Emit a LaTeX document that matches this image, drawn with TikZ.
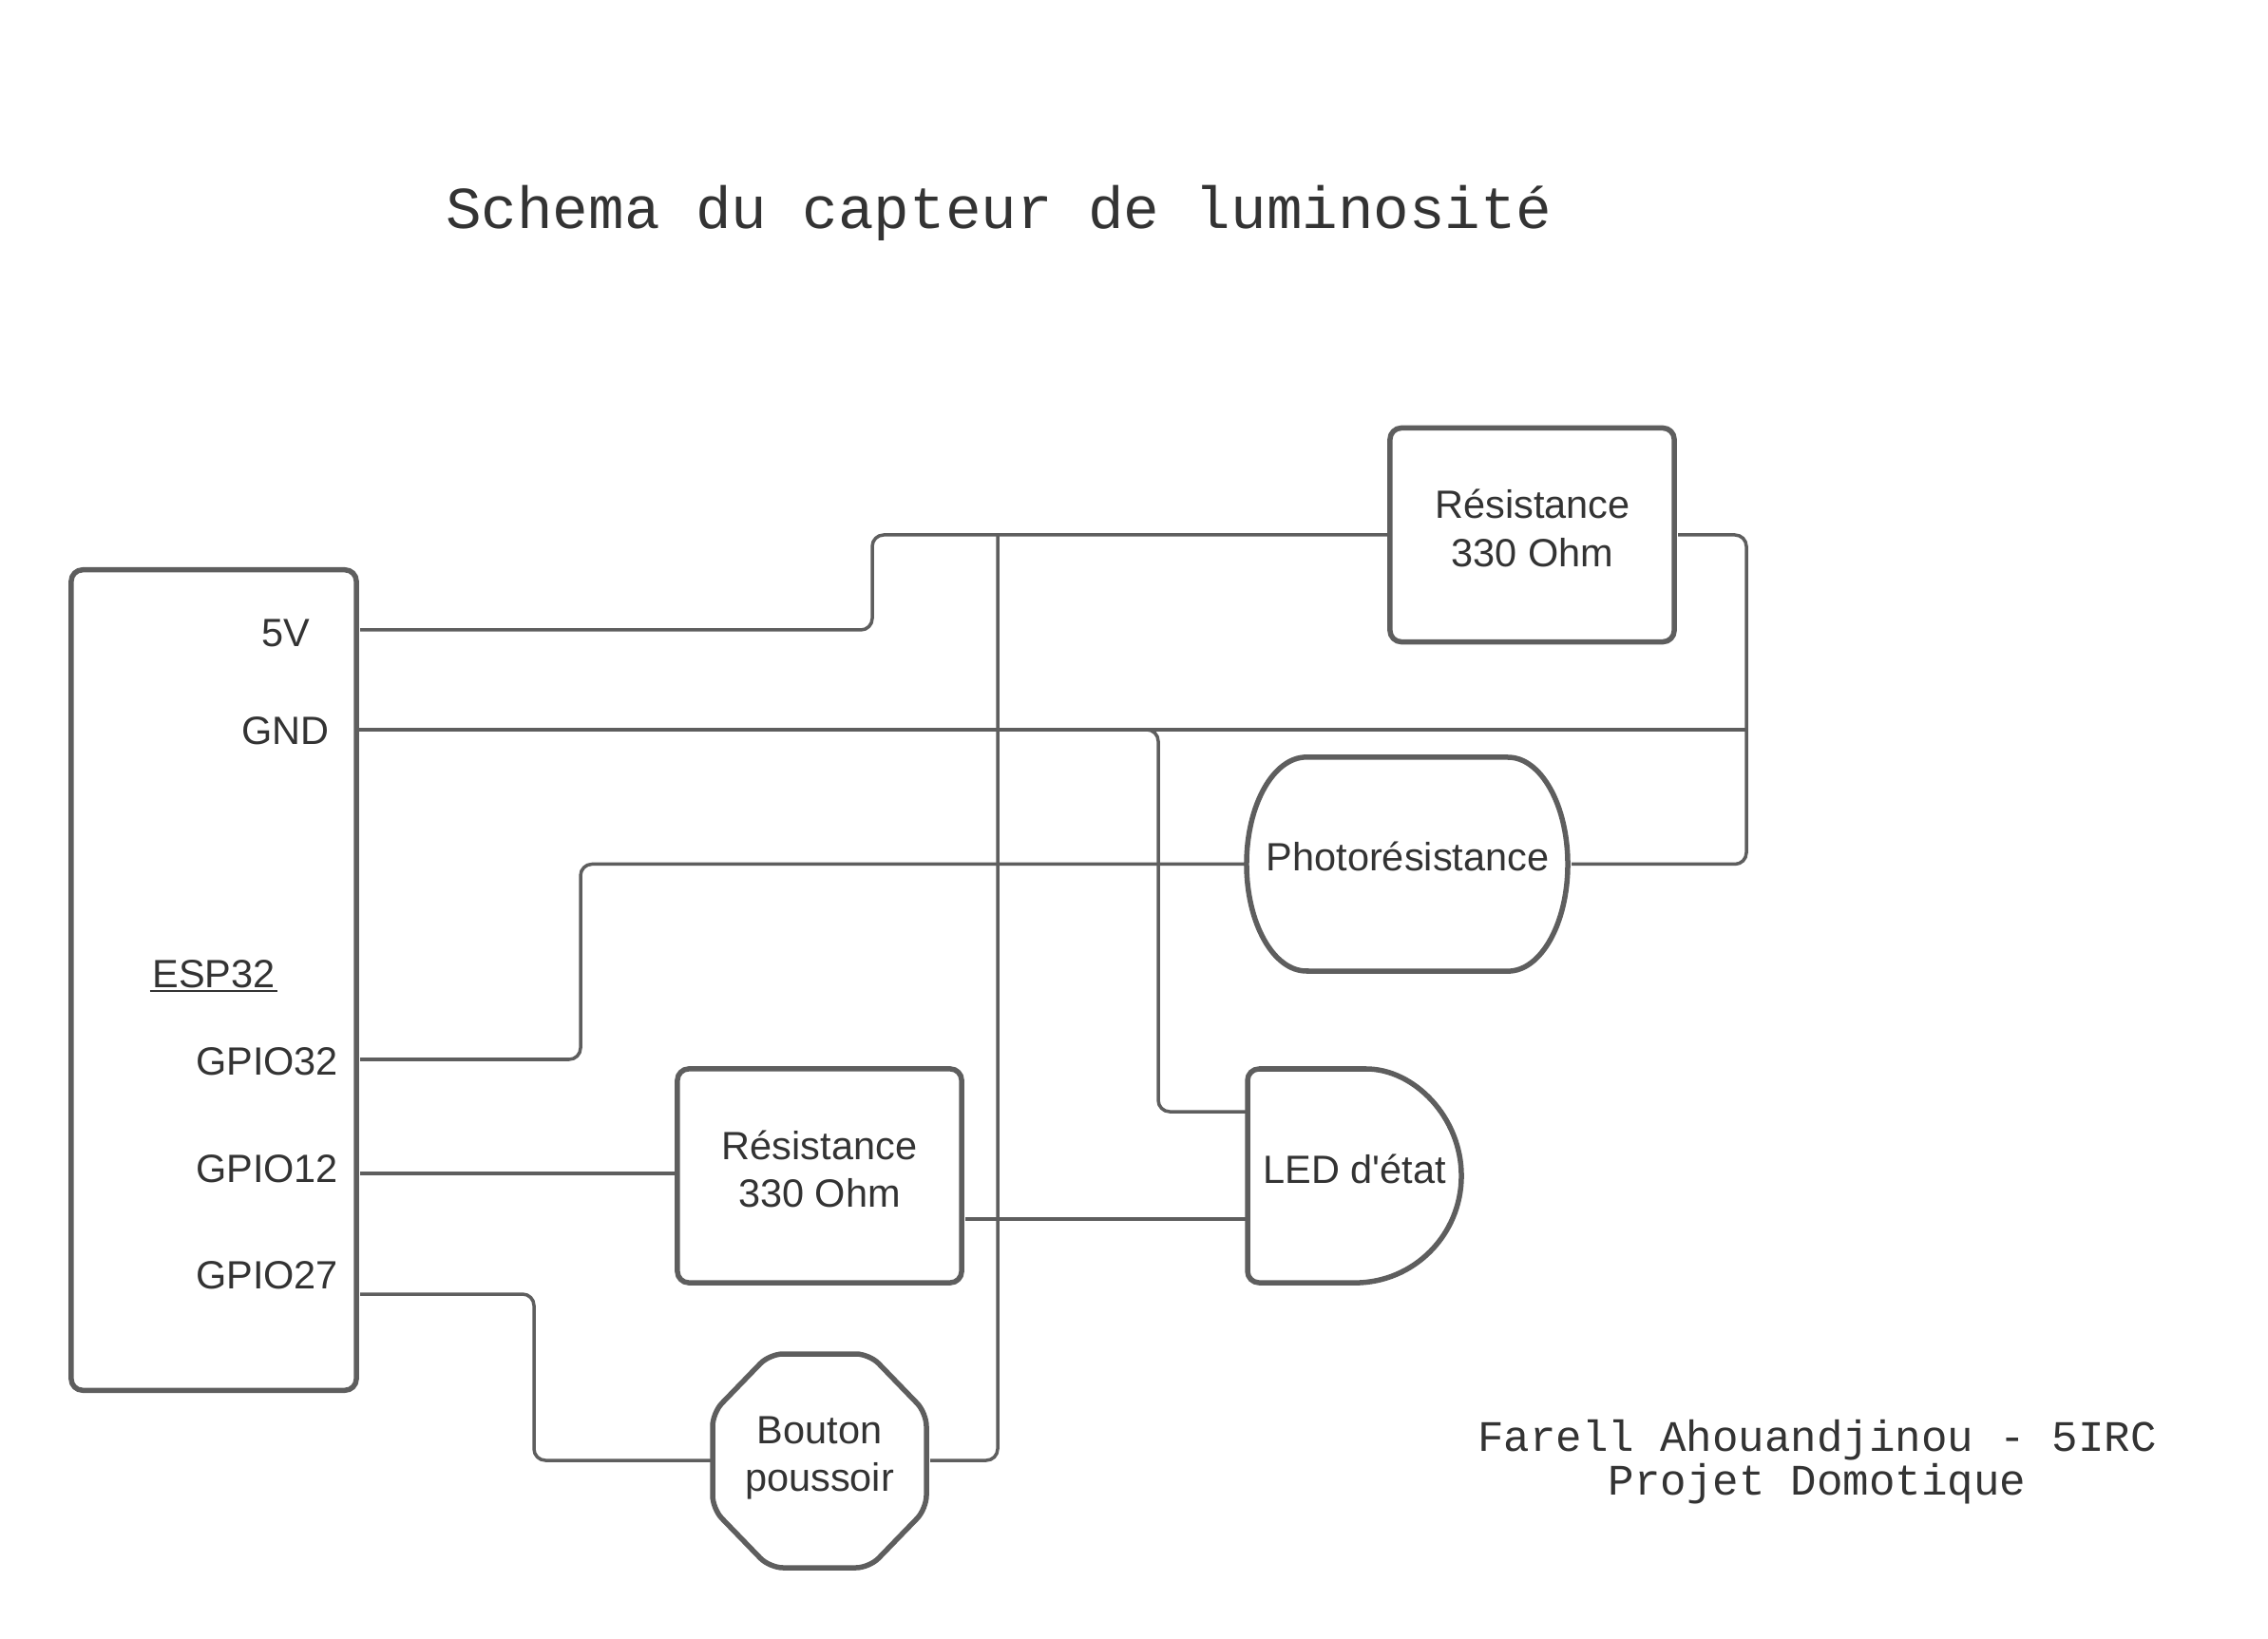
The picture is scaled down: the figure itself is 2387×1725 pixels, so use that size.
\documentclass[tikz,border=0pt]{standalone}
\usepackage{fontspec}
\setmainfont{Liberation Sans}[Ligatures=TeXOff]
\newfontfamily\monof{Liberation Mono}
\definecolor{linegray}{HTML}{5E5E5E}
\definecolor{textgray}{HTML}{333333}
\newcommand{\twolines}[2]{\vtop{\baselineskip=14.5pt\halign{\hfil##\hfil\cr#1\cr#2\cr}}}
\newcommand{\ulined}[1]{\vtop{\hbox{\kern.8pt #1\kern.8pt}\kern.6pt\hrule height .7pt}}
\tikzset{
  x=0.01cm,y=-0.01cm,
  outline/.style={draw=linegray,line width=0.055cm,line join=round},
  boxnode/.style={outline,rectangle,rounded corners=0.12cm,inner sep=0,outer sep=0},
  ghost/.style={rectangle,inner sep=0,outer sep=0},
  wire/.style={draw=linegray,line width=0.035cm,rounded corners=0.12cm},
  thinwire/.style={draw=linegray,line width=0.033cm},
  label/.style={anchor=base,inner sep=0,outer sep=0,text=textgray,font=\fontsize{11.8}{14.5}\selectfont},
  monotitle/.style={anchor=base,inner sep=0,outer sep=0,text=textgray,font=\monof\fontsize{17.8}{21}\selectfont},
  monofoot/.style={anchor=base,inner sep=0,outer sep=0,text=textgray,font=\monof\fontsize{13.03}{15}\selectfont},
  gap start/.style={shorten <=0.04cm},
}
\begin{document}
\begin{tikzpicture}
\useasboundingbox (0,0) rectangle (2387,1725);
% boxes
\node[boxnode,minimum width=3.00cm,minimum height=8.63cm] (esp) at (225,1031.5) {};
\node[boxnode,minimum width=2.99cm,minimum height=2.25cm] (rone) at (1612.5,563) {};
\node[boxnode,minimum width=2.99cm,minimum height=2.25cm] (rtwo) at (862.5,1237.5) {};
\node[ghost,minimum width=3.38cm,minimum height=2.25cm] (photo) at (1481.5,909.5) {};
\node[ghost,minimum width=2.25cm,minimum height=2.25cm] (led) at (1425.5,1237.5) {};
\node[ghost,minimum width=2.25cm,minimum height=2.25cm] (btn) at (862.5,1537.5) {};
% special shapes
\draw[outline] (1375,797) -- (1587,797) arc[start angle=90,end angle=-90,x radius=0.63cm,y radius=1.125cm] -- (1375,1022) arc[start angle=270,end angle=90,x radius=0.63cm,y radius=1.125cm] -- cycle;
\draw[outline] (1426,1125) arc[start angle=90,end angle=-90,x radius=1.12cm,y radius=1.125cm] [rounded corners=0.12cm] -- (1313,1350) -- (1313,1125) -- cycle;
\draw[outline,rounded corners=0.14cm] (863,1425) -- (915,1425) -- (975,1487) -- (975,1588) -- (915,1650) -- (810,1650) -- (750,1588) -- (750,1487) -- (810,1425) -- cycle;
% pins and junctions
\coordinate (pfive) at (379,663);
\coordinate (pgnd) at (375,768);
\coordinate (pthirtytwo) at (379,1115);
\coordinate (ptwelve) at (379,1235);
\coordinate (ptwentyseven) at (379,1362);
\coordinate (jpower) at (1050,563);
\coordinate (jright) at (1838,768);
\coordinate (ledtop) at (1313,1170);
\coordinate (ledlow) at (1313,1283);
\coordinate (rtwolow) at (1016,1283);
\coordinate (btnout) at (979,1537);
\coordinate (btnin) at (750,1537);
\coordinate (photoout) at (1654,909.5);
% connectors
\draw[wire] (pfive) -- (918,663) -- (918,563) -- (rone.west);
\draw[wire,gap start] (rone.east) -- (1838,563) -- (1838,909.5) -- (photoout);
\draw[thinwire] (pgnd) -- (jright);
\draw[wire] (pgnd) -- (1219,768) -- (1219,1170) -- (ledtop);
\draw[wire] (pthirtytwo) -- (611,1115) -- (611,909.5) -- (photo.west);
\draw[wire] (ptwelve) -- (rtwo.west |- ptwelve);
\draw[wire] (rtwolow) -- (ledlow);
\draw[wire] (ptwentyseven) -- (562,1362) -- (562,1537) -- (btnin);
\draw[wire] (btnout) -- (1050,1537) -- (jpower);
% texts
\node[monotitle] (title) at (1051.5,240.5) {Schema du capteur de luminosité};
\node[label] (tfive) at (300.5,681) {5V};
\node[label] (tgnd) at (300.5,783.5) {GND};
\node[label] (tesp) at (225,1039.5) {\ulined{ESP32}};
\node[label] (tthirtytwo) at (281,1131) {GPIO32};
\node[label] (ttwelve) at (281,1244) {GPIO12};
\node[label] (ttwentyseven) at (281,1356) {GPIO27};
\node[label] (trone) at (1613,546) {\twolines{Résistance}{330 Ohm}};
\node[label] (trtwo) at (862.5,1220) {\twolines{Résistance}{330 Ohm}};
\node[label] (tphoto) at (1481.5,916) {Photorésistance};
\node[label] (tled) at (1425.7,1245) {LED d'état};
\node[label] (tbtn) at (862.5,1519) {\twolines{Bouton}{poussoir}};
\node[monofoot] (tfoota) at (1912.5,1527.5) {Farell Ahouandjinou - 5IRC};
\node[monofoot] (tfootb) at (1912.5,1573) {Projet Domotique};
\end{tikzpicture}
\end{document}
